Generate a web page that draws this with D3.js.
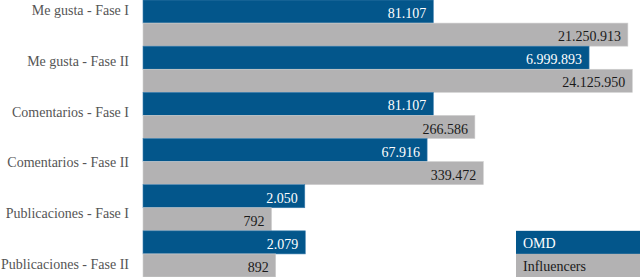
<!DOCTYPE html>
<html>
<head>
<meta charset="utf-8">
<script src="https://cdn.jsdelivr.net/npm/d3@7"></script>
<style>
  body { margin: 0; background: #fff; }
  svg { display: block; }
  svg text { font-family: "Liberation Serif", "Times New Roman", serif; }
</style>
</head>
<body>
<svg class="chart"></svg>
<script>
const categories = ['Me gusta - Fase I', 'Me gusta - Fase II', 'Comentarios - Fase I',
  'Comentarios - Fase II', 'Publicaciones - Fase I', 'Publicaciones - Fase II'];
const seriesNames = ['OMD', 'Influencers'];
const omdValues = [81107, 6999893, 81107, 67916, 2050, 2079];
const influencerValues = [21250913, 24125950, 266586, 339472, 792, 892];

const width = 640;
const height = 277;
const left = 143;
const serif = '"Liberation Serif", "Times New Roman", serif';
const colors = { OMD: '#03568b', Influencers: '#b3b2b3' };
const textColors = { OMD: '#ffffff', Influencers: '#1a1a1a' };

const svg = d3.select('.chart').attr('width', width).attr('height', height);

const rows = categories.map((c, i) => ({
  cat: c,
  vals: [
    { name: 'OMD', v: omdValues[i] },
    { name: 'Influencers', v: influencerValues[i] }
  ]
}));

// bar lengths in the original aren't linear; a log scale is the closest fit
const x = d3.scaleLog().domain([20, 1e8]).range([left, left + 539]);
const y = d3.scaleBand().domain(categories).range([0, height]);
const ySub = d3.scaleBand().domain(seriesNames).range([0, y.bandwidth()]);
const fmt = d3.formatLocale({ decimal: ',', thousands: '.', grouping: [3], currency: ['', ''] }).format(',d');

const groups = svg.append('g').selectAll('g')
  .data(rows)
  .join('g')
  .attr('transform', d => `translate(0,${y(d.cat)})`);

groups.selectAll('rect')
  .data(d => d.vals)
  .join('rect')
  .attr('x', left)
  .attr('y', d => ySub(d.name))
  .attr('width', d => x(d.v) - left)
  .attr('height', ySub.bandwidth())
  .attr('fill', d => colors[d.name])
  .attr('stroke', d => d.name === 'OMD' ? '#3f7fae' : '#cfcfcf')
  .attr('stroke-width', 0.6);

groups.selectAll('text')
  .data(d => d.vals)
  .join('text')
  .attr('x', d => x(d.v) - 7)
  .attr('y', d => ySub(d.name) + ySub.bandwidth() / 2)
  .attr('dy', '0.47em')
  .attr('text-anchor', 'end')
  .attr('font-family', serif)
  .attr('font-size', 14)
  .attr('fill', d => textColors[d.name])
  .text(d => fmt(d.v));

// category labels sit on their own even spacing, not centred on the groups
const yLab = d3.scalePoint().domain(categories).range([10, 264]);
const axis = svg.append('g')
  .attr('transform', `translate(${left},0)`)
  .call(d3.axisLeft(yLab).tickSize(0).tickPadding(14));
axis.attr('font-family', serif);
axis.select('.domain').remove();
axis.selectAll('text')
  .attr('font-family', serif)
  .attr('font-size', 14)
  .attr('fill', '#555');

// legend
const last = categories[categories.length - 1];
const legend = svg.append('g')
  .attr('transform', `translate(516,${y(last)})`);
legend.selectAll('rect')
  .data(seriesNames)
  .join('rect')
  .attr('x', 0)
  .attr('y', d => ySub(d))
  .attr('width', width - 516)
  .attr('height', ySub.bandwidth())
  .attr('fill', d => colors[d]);
legend.selectAll('text')
  .data(seriesNames)
  .join('text')
  .attr('x', 7)
  .attr('y', d => ySub(d) + ySub.bandwidth() / 2)
  .attr('dy', '0.4em')
  .attr('font-family', serif)
  .attr('font-size', 14)
  .attr('fill', d => textColors[d])
  .text(d => d);
</script>
</body>
</html>
